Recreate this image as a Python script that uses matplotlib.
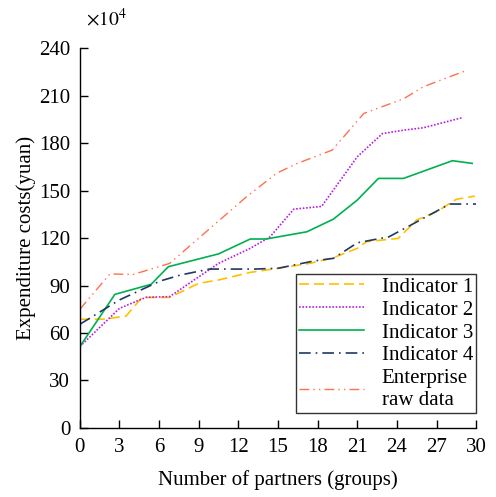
import matplotlib.pyplot as plt

plt.rcParams['font.family'] = ['Liberation Serif', 'DejaVu Serif']
plt.rcParams['mathtext.fontset'] = 'stix'

# Datos (unidades de 10^4 yuan)
x_ind1 = [0, 1.8, 3.5, 4.7, 6.8, 9, 10.5, 12.9, 15, 17.4, 19.2, 21, 21.7, 24.1, 25.5, 27, 28.5, 29.9]
y_ind1 = [68.7, 68.7, 70.7, 82.5, 82.5, 91.4, 93.5, 98.3, 100.9, 104, 107.6, 113.5, 117.7, 119.8, 131.4, 136.6, 144.5, 146.5]

x_ind2 = [0, 3, 5, 6.8, 10.5, 12.9, 14.4, 16.2, 18.3, 21, 22.9, 24.5, 26, 28.9]
y_ind2 = [51.4, 75.6, 82.5, 83, 104, 113.5, 120.8, 138.3, 140, 171.4, 186, 188.2, 189.7, 196]

x_ind3 = [0, 2.65, 5.4, 6.7, 10.5, 12.9, 14.1, 17.2, 19.2, 21, 22.6, 24.5, 28.2, 29.7]
y_ind3 = [51.4, 84.4, 90.8, 101.9, 110, 119.4, 119.4, 124, 132, 144, 157.7, 157.7, 168.9, 167.2]

x_ind4 = [0, 3, 6.1, 7.6, 9.8, 13.2, 15, 17.7, 19.2, 21, 23.4, 25.3, 28, 30]
y_ind4 = [65.5, 80.9, 92.9, 96.6, 100.4, 100.4, 100.9, 105.5, 107.2, 117, 120.8, 129.3, 141.5, 141.5]

x_emp = [0, 2.27, 4.04, 6.8, 12.6, 14.9, 16.4, 19.1, 21.5, 24.5, 26, 28, 29.2]
y_emp = [75, 97.3, 97, 104, 146, 161, 167, 175.6, 198.8, 208, 215.6, 222, 225.7]

etiquetas = ['Indicator 1', 'Indicator 2', 'Indicator 3', 'Indicator 4', 'Enterprise\nraw data']
xticks = list(range(0, 31, 3))
yticks = list(range(0, 241, 30))

fig = plt.figure(figsize=(4.96, 4.97), dpi=100)
ax = fig.add_axes([0.161, 0.139, 0.799, 0.764])

ax.plot(x_ind1, y_ind1, color='#FFC000', linestyle=(0, (6, 3)), linewidth=1.2, label=etiquetas[0])
ax.plot(x_ind2, y_ind2, color='#B620E0', linestyle=(0, (1, 1)), linewidth=1.2, label=etiquetas[1])
ax.plot(x_ind3, y_ind3, color='#00B050', linestyle='-', linewidth=1.2, label=etiquetas[2])
ax.plot(x_ind4, y_ind4, color='#203864', linestyle=(0, (7, 3, 1, 3)), linewidth=1.2, label=etiquetas[3])
ax.plot(x_emp, y_emp, color='#FF6F50', linestyle=(0, (7, 3, 1, 3, 1, 3)), linewidth=1.0, label=etiquetas[4])

ax.set_xlim(0, 30)
ax.set_ylim(0, 240)
ax.set_xticks(xticks)
ax.set_yticks(yticks)
ax.tick_params(direction='in', labelsize=15, length=6, width=1, colors='black', pad=7)
ax.spines['top'].set_visible(False)
ax.spines['right'].set_visible(False)
ax.spines['left'].set_linewidth(1)
ax.spines['bottom'].set_linewidth(1)

ax.set_xlabel('Number of partners (groups)', fontsize=15, labelpad=10)
ax.set_ylabel('Expenditure costs(yuan)', fontsize=15, labelpad=2)
ax.text(0.015, 1.05, r'$\times10^4$', transform=ax.transAxes, fontsize=14, ha='left', va='bottom')

leg = ax.legend(loc='lower right', bbox_to_anchor=(1.0, 0.04), fontsize=15, handlelength=3.1,
                frameon=True, fancybox=False, edgecolor='black', borderpad=0.15,
                labelspacing=0.16, handletextpad=0.85, borderaxespad=0)
leg.get_frame().set_linewidth(1)

plt.savefig('out.png', dpi=100)
